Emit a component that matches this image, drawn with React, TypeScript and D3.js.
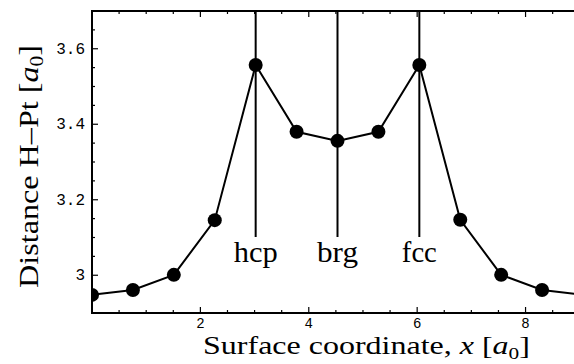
import React, { useRef, useEffect } from "react";
import * as d3 from "d3";

// surface coordinate of each computed point [a0]
const xs = [0, 0.755, 1.51, 2.265, 3.02, 3.775, 4.53, 5.285, 6.04, 6.795, 7.55, 8.305, 9.06];
// H-Pt distance [a0]
const dist = [2.948, 2.961, 3.001, 3.146, 3.557, 3.38, 3.356, 3.38, 3.557, 3.147, 3.001, 2.961, 2.948];

const siteNames = ["hcp", "brg", "fcc"];
const sitePos = [3.02, 4.53, 6.04];

const xTicks = [2, 4, 6, 8];
const yTicks = [3, 3.2, 3.4, 3.6];

const serif = "'Liberation Serif', 'Times New Roman', serif";
const mono = "'Liberation Mono', 'DejaVu Sans Mono', monospace";

// stretch a text horizontally around its anchor so it reaches the wanted width
function fitWidth(sel: d3.Selection<SVGTextElement, unknown, null, undefined>, cx: number, cy: number, w: number, rot = 0) {
  const node = sel.node();
  if (!node) return;
  const bw = node.getBBox().width || w;
  const k = w / bw;
  sel.attr("x", 0).attr("y", 0)
    .attr("transform", `translate(${cx},${cy}) rotate(${rot}) scale(${k},1)`);
}

export default function App() {
  const ref = useRef<SVGSVGElement>(null);
  const width = 574;
  const height = 364;

  useEffect(() => {
    const svg = d3.select(ref.current);
    svg.selectAll("*").remove();

    const left = 92, top = 11, bottom = 313, right = 583;

    const x = d3.scaleLinear().domain([0, 9.06]).range([left, right]);
    const y = d3.scaleLinear().domain([2.9, 3.7]).range([bottom, top]);

    svg.append("defs")
      .append("clipPath")
      .attr("id", "plotclip")
      .append("rect")
      .attr("x", left).attr("y", top)
      .attr("width", right - left).attr("height", bottom - top);

    const g = svg.append("g");

    // ticks on x (bottom and top, inward)
    const xMinor = d3.range(0.5, 9.06, 0.5);
    xMinor.forEach(v => {
      const major = Math.abs(v - Math.round(v / 2) * 2) < 1e-6;
      const len = major ? 6 : 3;
      g.append("line")
        .attr("x1", x(v)).attr("x2", x(v))
        .attr("y1", bottom).attr("y2", bottom - len)
        .attr("stroke", "#000").attr("stroke-width", 1.2);
      g.append("line")
        .attr("x1", x(v)).attr("x2", x(v))
        .attr("y1", top).attr("y2", top + len)
        .attr("stroke", "#000").attr("stroke-width", 1.2);
    });

    // ticks on y
    const yMinor = d3.range(2.95, 3.7, 0.05);
    yMinor.forEach(v => {
      const major = yTicks.some(t => Math.abs(t - v) < 1e-6);
      const len = major ? 6 : 3;
      g.append("line")
        .attr("x1", left).attr("x2", left + len)
        .attr("y1", y(v)).attr("y2", y(v))
        .attr("stroke", "#000").attr("stroke-width", 1.2);
    });

    // tick labels
    g.selectAll("text.xt")
      .data(xTicks)
      .join("text")
      .attr("class", "xt")
      .attr("x", d => x(d))
      .attr("y", 328)
      .attr("text-anchor", "middle")
      .attr("font-family", mono)
      .attr("font-size", 14)
      .text(d => d);

    g.selectAll("text.yt")
      .data(yTicks)
      .join("text")
      .attr("class", "yt")
      .attr("x", 85)
      .attr("y", d => y(d) + 5)
      .attr("text-anchor", "end")
      .attr("font-family", mono)
      .attr("font-size", 16)
      .text(d => (d === 3 ? "3" : d.toFixed(1)));

    // site markers
    g.selectAll("line.site")
      .data(sitePos)
      .join("line")
      .attr("class", "site")
      .attr("x1", d => x(d)).attr("x2", d => x(d))
      .attr("y1", top).attr("y2", 237)
      .attr("stroke", "#000")
      .attr("stroke-width", 2);

    const siteW = [44, 41, 35];
    siteNames.forEach((name, i) => {
      const t = g.append("text")
        .attr("text-anchor", "middle")
        .attr("font-family", serif)
        .attr("font-size", 30)
        .text(name);
      fitWidth(t, x(sitePos[i]), 262, siteW[i]);
    });

    // curve, clipped to the frame
    const plot = g.append("g").attr("clip-path", "url(#plotclip)");
    const line = d3.line<number>()
      .x((d, i) => x(xs[i]))
      .y(d => y(d));

    plot.append("path")
      .datum(dist)
      .attr("d", line)
      .attr("fill", "none")
      .attr("stroke", "#000")
      .attr("stroke-width", 2);

    plot.selectAll("circle.pt")
      .data(dist)
      .join("circle")
      .attr("class", "pt")
      .attr("cx", (d, i) => x(xs[i]))
      .attr("cy", d => y(d))
      .attr("r", 7)
      .attr("fill", "#000");

    // frame
    g.append("rect")
      .attr("x", left)
      .attr("y", top)
      .attr("width", right - left)
      .attr("height", bottom - top)
      .attr("fill", "none")
      .attr("stroke", "#000")
      .attr("stroke-width", 2);

    // axis titles
    const xt = svg.append("text")
      .attr("text-anchor", "middle")
      .attr("font-family", serif)
      .attr("font-size", 25.5);
    xt.append("tspan").text("Surface coordinate, ");
    xt.append("tspan").attr("font-style", "italic").text("x");
    xt.append("tspan").text(" [");
    xt.append("tspan").attr("font-style", "italic").text("a");
    xt.append("tspan").attr("font-size", 17).attr("dy", 5).text("0");
    xt.append("tspan").attr("dy", -5).text("]");
    fitWidth(xt, 366.5, 354, 327);

    const yt = svg.append("text")
      .attr("text-anchor", "middle")
      .attr("font-family", serif)
      .attr("font-size", 27);
    yt.append("tspan").text("Distance H\u2013Pt [");
    yt.append("tspan").attr("font-style", "italic").text("a");
    yt.append("tspan").attr("font-size", 18).attr("dy", 5).text("0");
    yt.append("tspan").attr("dy", -5).text("]");
    fitWidth(yt, 38, 166.5, 243, -90);
  }, []);

  return (
    <svg
      ref={ref}
      width={width}
      height={height}
      style={{ position: "absolute", left: 0, top: 0, background: "#fff", overflow: "hidden" }}
    />
  );
}
